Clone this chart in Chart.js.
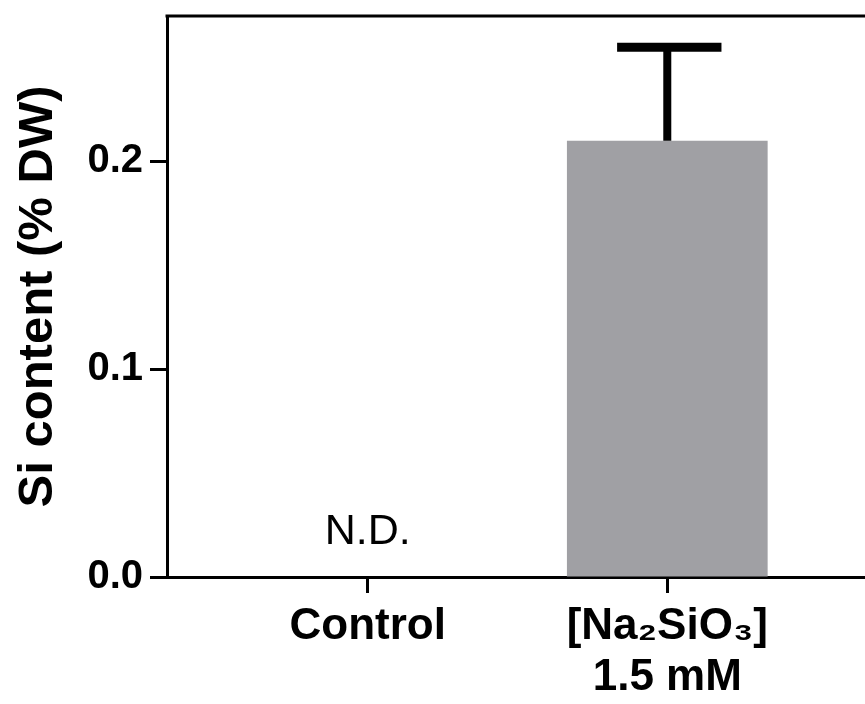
<!DOCTYPE html>
<html>
<head>
<meta charset="utf-8">
<script src="https://cdn.jsdelivr.net/npm/chart.js@4/dist/chart.umd.min.js"></script>
<style>
  html, body { margin: 0; padding: 0; background: #fff; overflow: hidden; }
</style>
</head>
<body>
<canvas id="canvas" width="865" height="704"></canvas>
<script>
// data
const categoryLabels = [['Control'], ['[Na₂SiO₃]', '1.5 mM']];
const siContent = [null, 0.21];   // Control not detected
const siError = [0, 0.045];
const notes = ['N.D.', ''];
const yTicks = [0.0, 0.1, 0.2];

const FONT = '"Liberation Sans", Arial, sans-serif';

// error bars, N.D. note and the top frame line
const extras = {
  id: 'extras',
  afterDatasetsDraw(chart) {
    const ctx = chart.ctx
    const xs = chart.scales.x, ys = chart.scales.y, area = chart.chartArea
    ctx.save()
    ctx.strokeStyle = '#000'
    ctx.lineWidth = 3
    ctx.beginPath()
    ctx.moveTo(area.left - 1.5, area.top)
    ctx.lineTo(area.right, area.top)
    ctx.stroke()

    const meta = chart.getDatasetMeta(0)
    meta.data.forEach(function (bar, i) {
      if (siContent[i] == null || !siError[i]) return
      const top = ys.getPixelForValue(siContent[i] + siError[i])
      const half = bar.width / 4
      ctx.lineWidth = 8
      ctx.beginPath()
      ctx.moveTo(bar.x, bar.y)
      ctx.lineTo(bar.x, top)
      ctx.stroke()
      ctx.lineWidth = 9
      ctx.beginPath()
      ctx.moveTo(bar.x - half, top)
      ctx.lineTo(bar.x + half + 4, top)
      ctx.stroke()
    })

    ctx.fillStyle = '#000'
    ctx.font = '43px ' + FONT
    ctx.textAlign = 'center'
    ctx.textBaseline = 'alphabetic'
    notes.forEach(function (t, i) {
      if (t) ctx.fillText(t, xs.getPixelForValue(i), ys.getPixelForValue(0) - 33)
    })
    ctx.restore()
  }
};

const data = {
  datasets: [{
    label: 'Si content',
    data: categoryLabels.map(function (c, i) { return { x: i, y: siContent[i] } }),
    backgroundColor: '#a0a0a4',
    borderWidth: 0,
    categoryPercentage: 1,
    barPercentage: 0.67,
  }]
};

const config = {
  type: 'bar',
  data: data,
  options: {
    responsive: false,
    animation: false,
    layout: { padding: { left: 0, top: 16, right: 0, bottom: 0 } },
    plugins: { legend: { display: false }, tooltip: { enabled: false } },
    scales: {
      x: {
        type: 'linear',
        offset: false,
        bounds: 'data',
        min: -0.67,
        max: 1.66,
        afterBuildTicks: function (s) { s.ticks = categoryLabels.map(function (c, i) { return { value: i } }) },
        afterFit: function (s) { s.height = 127; s.paddingLeft = 0; s.paddingRight = 0 },
        grid: { display: true, offset: false, drawOnChartArea: false, drawTicks: true, tickLength: 16, tickWidth: 3, tickColor: '#000' },
        border: { display: true, color: '#000', width: 3 },
        ticks: {
          padding: 8,
          maxRotation: 0,
          autoSkip: false,
          color: '#000',
          font: { family: FONT, size: 44, weight: 'bold', lineHeight: 1.16 },
          callback: function (v) { return categoryLabels[v] }
        }
      },
      y: {
        min: 0,
        max: 0.27,
        bounds: 'data',
        afterBuildTicks: function (s) { s.ticks = yTicks.map(function (v) { return { value: v } }) },
        afterFit: function (s) { s.width = 167; s.paddingTop = 0; s.paddingBottom = 0 },
        grid: { display: true, drawOnChartArea: false, drawTicks: true, tickLength: 17, tickWidth: 3, tickColor: '#000' },
        border: { display: true, color: '#000', width: 3 },
        ticks: {
          padding: 7,
          color: '#000',
          font: { family: FONT, size: 40, weight: 'bold' },
          callback: function (v) { return v.toFixed(1) }
        },
        title: {
          display: true,
          text: 'Si content (% DW)',
          color: '#000',
          padding: { top: 9, bottom: 0 },
          font: { family: FONT, size: 49, weight: 'bold', lineHeight: 1.2 }
        }
      }
    }
  },
  plugins: [extras]
}

const canvas = document.getElementById('canvas')
const chart = new Chart(canvas, config)
</script>
</body>
</html>
